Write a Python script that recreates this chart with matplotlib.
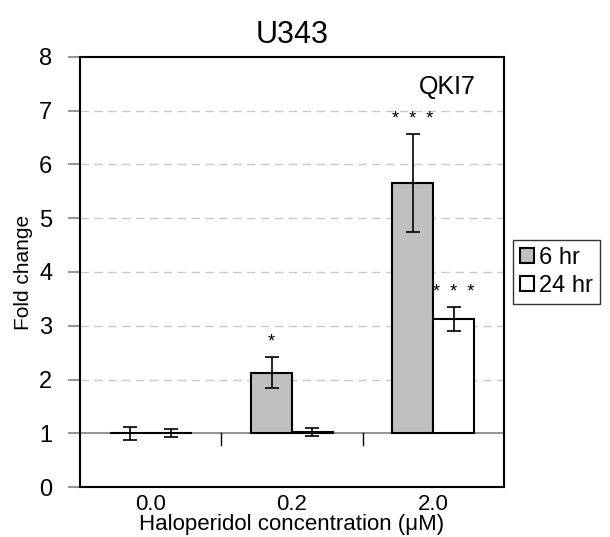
import numpy as np
import matplotlib.pyplot as plt

plt.rcParams['font.family'] = ['Liberation Sans', 'DejaVu Sans']

# data
concentrations = ['0.0', '0.2', '2.0']
fold_6hr = [1.00, 2.13, 5.65]
err_6hr = [0.12, 0.29, 0.91]
fold_24hr = [1.00, 1.02, 3.12]
err_24hr = [0.07, 0.07, 0.22]
stars_6hr = ['', '*', '*  *  *']
stars_24hr = ['', '', '*  *  *']

baseline = 1.0
width = 0.29
x = np.arange(len(concentrations))

fig = plt.figure(figsize=(6.1, 5.37), dpi=100)
ax = fig.add_axes([80 / 610, 1 - 487 / 537, 424 / 610, 430 / 537])

ax.set_ylim(0, 8)
ax.set_xlim(-0.5, 2.5)
ax.set_yticks(range(0, 9))
for y in range(2, 8):
    ax.axhline(y, color='#c8c8c8', linestyle=(0, (6, 4)), linewidth=1, zorder=0)
ax.axhline(baseline, color='#808080', linewidth=1.2, zorder=1)
for xm in [0.5, 1.5]:
    ax.plot([xm, xm], [baseline, baseline - 0.22], color='black', linewidth=1, zorder=1)

h6 = [v - baseline for v in fold_6hr]
h24 = [v - baseline for v in fold_24hr]
ax.bar(x - width / 2, h6, width, bottom=baseline, color='#c0c0c0',
       edgecolor='black', linewidth=1.5, label='6 hr', zorder=2)
ax.bar(x + width / 2, h24, width, bottom=baseline, color='white',
       edgecolor='black', linewidth=1.5, label='24 hr', zorder=2)
ax.errorbar(x - width / 2, fold_6hr, yerr=err_6hr, fmt='none', ecolor='black',
            elinewidth=1.2, capsize=5, capthick=1.2, zorder=3)
ax.errorbar(x + width / 2, fold_24hr, yerr=err_24hr, fmt='none', ecolor='black',
            elinewidth=1.2, capsize=5, capthick=1.2, zorder=3)

for i in range(len(x)):
    if stars_6hr[i]:
        ax.text(x[i] - width / 2, fold_6hr[i] + err_6hr[i] + 0.12, stars_6hr[i],
                ha='center', va='bottom', fontsize=13)
    if stars_24hr[i]:
        ax.text(x[i] + width / 2, fold_24hr[i] + err_24hr[i] + 0.12, stars_24hr[i],
                ha='center', va='bottom', fontsize=13)

ax.text(2.10, 7.44, 'QKI7', ha='center', va='center', fontsize=18)

for side in ['left', 'bottom', 'top', 'right']:
    ax.spines[side].set_linewidth(1.5)
ax.set_xticks(x)
ax.set_xticklabels(concentrations, fontsize=16)
ax.tick_params(axis='x', length=0, pad=5)
ax.tick_params(axis='y', labelsize=17, color='#808080', length=9, width=1.2, pad=11)

ax.set_ylabel('Fold change', fontsize=15, labelpad=4)
ax.set_xlabel('Haloperidol concentration (\u03bcM)', fontsize=16, labelpad=-1)
ax.set_title('U343', fontsize=22, pad=10)

ax.legend(loc='center left', bbox_to_anchor=(1.021, 0.5), fontsize=17,
          frameon=True, fancybox=False, edgecolor='black', handlelength=0.6,
          handleheight=0.6, handletextpad=0.2, borderpad=0.3, labelspacing=0.25,
          borderaxespad=0)

fig.savefig('out.png', dpi=100)
